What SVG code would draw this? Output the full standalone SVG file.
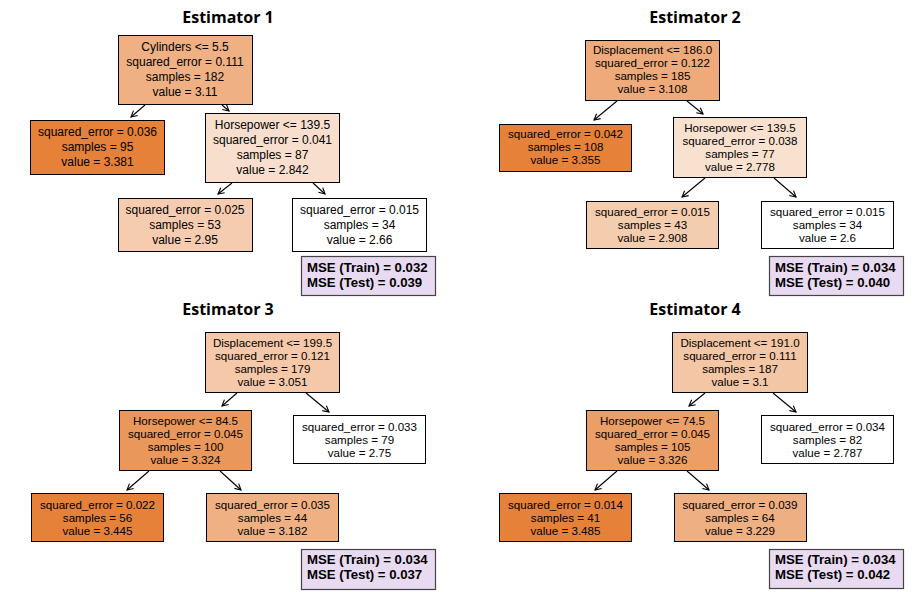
<svg xmlns="http://www.w3.org/2000/svg" width="924" height="592" viewBox="0 0 924 592">
<defs>
<marker id="ah" markerWidth="10" markerHeight="10" refX="0" refY="0" viewBox="-8 -5 10 10" orient="auto" markerUnits="userSpaceOnUse">
<path d="M-6,-3.2 L0,0 L-6,3.2" fill="none" stroke="#000" stroke-width="1.1"/>
</marker>
</defs>
<style>
text{font-family:"Liberation Sans","Arial",sans-serif;fill:#000}
.n text{font-size:11.6px;text-anchor:middle}
#e1 .n text{font-size:12px}
.n rect{stroke:#000;stroke-width:1}
.t{font-family:"Open Sans","Noto Sans",sans-serif;font-size:16px;font-weight:bold;text-anchor:middle}
.m rect{fill:#e8daf0;stroke:#444;stroke-width:1.2}
.m text{font-size:13.2px;font-weight:bold}
.c line{stroke:#000;stroke-width:1.1;marker-end:url(#ah)}
</style>
<rect width="924" height="592" fill="#fff"/>

<text class="t" x="228" y="23">Estimator 1</text>
<text class="t" x="695" y="23">Estimator 2</text>
<text class="t" x="228" y="315">Estimator 3</text>
<text class="t" x="695" y="315">Estimator 4</text>

<g id="connectors" class="c">
<line x1="145" y1="105" x2="131" y2="117"/>
<line x1="222" y1="105" x2="229" y2="111"/>
<line x1="232" y1="183" x2="218" y2="194"/>
<line x1="313" y1="183" x2="325" y2="194"/>

<line x1="617" y1="101" x2="594" y2="120"/>
<line x1="687" y1="101" x2="703" y2="114"/>
<line x1="705" y1="178" x2="682" y2="197"/>
<line x1="774" y1="178" x2="796" y2="197"/>

<line x1="237" y1="393" x2="222" y2="406"/>
<line x1="306" y1="393" x2="329" y2="412"/>
<line x1="149" y1="471" x2="127" y2="490"/>
<line x1="220" y1="471" x2="241" y2="490"/>

<line x1="705" y1="393" x2="689" y2="406"/>
<line x1="773" y1="393" x2="796" y2="412"/>
<line x1="617" y1="471" x2="595" y2="490"/>
<line x1="687" y1="471" x2="709" y2="490"/>
</g>

<g id="e1">
<g id="e1n0" class="n"><rect x="118.5" y="35.5" width="134" height="69" fill="#efb083"/>
<text x="185" y="51">Cylinders &lt;= 5.5</text><text x="185" y="66">squared_error = 0.111</text><text x="185" y="81">samples = 182</text><text x="185" y="96">value = 3.11</text></g>
<g id="e1n1" class="n"><rect x="30.5" y="120.5" width="134" height="54" fill="#e58139"/>
<text x="97.5" y="136">squared_error = 0.036</text><text x="97.5" y="151">samples = 95</text><text x="97.5" y="166">value = 3.381</text></g>
<g id="e1n2" class="n"><rect x="205.5" y="113.5" width="134" height="69" fill="#f8dfcd"/>
<text x="272.5" y="128.5">Horsepower &lt;= 139.5</text><text x="272.5" y="143.5">squared_error = 0.041</text><text x="272.5" y="158.5">samples = 87</text><text x="272.5" y="173.5">value = 2.842</text></g>
<g id="e1n3" class="n"><rect x="118.5" y="198.5" width="134" height="53" fill="#f5ccaf"/>
<text x="185" y="213.5">squared_error = 0.025</text><text x="185" y="228.5">samples = 53</text><text x="185" y="243.5">value = 2.95</text></g>
<g id="e1n4" class="n"><rect x="292.5" y="198.5" width="134" height="53" fill="#fff"/>
<text x="359.5" y="213.5">squared_error = 0.015</text><text x="359.5" y="228.5">samples = 34</text><text x="359.5" y="243.5">value = 2.66</text></g>
<g id="e1mse" class="m"><rect x="301.5" y="256.5" width="134" height="39"/>
<text x="307" y="272">MSE (Train) = 0.032</text><text x="307" y="287">MSE (Test) = 0.039</text></g>
</g>

<g id="e2">
<g id="e2n0" class="n"><rect x="585.5" y="40.5" width="134" height="60" fill="#eeaa7a"/>
<text x="652.5" y="54.2">Displacement &lt;= 186.0</text><text x="652.5" y="67.2">squared_error = 0.122</text><text x="652.5" y="80.2">samples = 185</text><text x="652.5" y="93.2">value = 3.108</text></g>
<g id="e2n1" class="n"><rect x="499.5" y="124.5" width="132" height="47" fill="#e58139"/>
<text x="565.5" y="138.2">squared_error = 0.042</text><text x="565.5" y="151.2">samples = 108</text><text x="565.5" y="164.2">value = 3.355</text></g>
<g id="e2n2" class="n"><rect x="673.5" y="117.5" width="133" height="60" fill="#f9e1d0"/>
<text x="740" y="132">Horsepower &lt;= 139.5</text><text x="740" y="145">squared_error = 0.038</text><text x="740" y="158">samples = 77</text><text x="740" y="171">value = 2.778</text></g>
<g id="e2n3" class="n"><rect x="586.5" y="201.5" width="132" height="47" fill="#f4ccae"/>
<text x="652.5" y="215.5">squared_error = 0.015</text><text x="652.5" y="228.5">samples = 43</text><text x="652.5" y="241.5">value = 2.908</text></g>
<g id="e2n4" class="n"><rect x="761.5" y="201.5" width="132" height="47" fill="#fff"/>
<text x="827.5" y="215.5">squared_error = 0.015</text><text x="827.5" y="228.5">samples = 34</text><text x="827.5" y="241.5">value = 2.6</text></g>
<g id="e2mse" class="m"><rect x="769.5" y="256.5" width="134" height="39"/>
<text x="775" y="272">MSE (Train) = 0.034</text><text x="775" y="287">MSE (Test) = 0.040</text></g>
</g>

<g id="e3">
<g id="e3n0" class="n"><rect x="205.5" y="332.5" width="134" height="60" fill="#f4c8a9"/>
<text x="272.5" y="347.3">Displacement &lt;= 199.5</text><text x="272.5" y="360.3">squared_error = 0.121</text><text x="272.5" y="373.3">samples = 179</text><text x="272.5" y="386.3">value = 3.051</text></g>
<g id="e3n1" class="n"><rect x="119.5" y="410.5" width="132" height="60" fill="#ea975c"/>
<text x="185.5" y="424.5">Horsepower &lt;= 84.5</text><text x="185.5" y="437.5">squared_error = 0.045</text><text x="185.5" y="450.5">samples = 100</text><text x="185.5" y="463.5">value = 3.324</text></g>
<g id="e3n2" class="n"><rect x="293.5" y="415.5" width="132" height="48" fill="#fff"/>
<text x="359.5" y="431.3">squared_error = 0.033</text><text x="359.5" y="444.3">samples = 79</text><text x="359.5" y="457.3">value = 2.75</text></g>
<g id="e3n3" class="n"><rect x="31.5" y="493.5" width="132" height="48" fill="#e58139"/>
<text x="97.5" y="508.5">squared_error = 0.022</text><text x="97.5" y="521.5">samples = 56</text><text x="97.5" y="534.5">value = 3.445</text></g>
<g id="e3n4" class="n"><rect x="206.5" y="493.5" width="132" height="48" fill="#efb184"/>
<text x="272.5" y="508.5">squared_error = 0.035</text><text x="272.5" y="521.5">samples = 44</text><text x="272.5" y="534.5">value = 3.182</text></g>
<g id="e3mse" class="m"><rect x="301.5" y="549.5" width="134" height="40"/>
<text x="307" y="564">MSE (Train) = 0.034</text><text x="307" y="579">MSE (Test) = 0.037</text></g>
</g>

<g id="e4">
<g id="e4n0" class="n"><rect x="672.5" y="332.5" width="135" height="60" fill="#f3c6a6"/>
<text x="740" y="347.3">Displacement &lt;= 191.0</text><text x="740" y="360.3">squared_error = 0.111</text><text x="740" y="373.3">samples = 187</text><text x="740" y="386.3">value = 3.1</text></g>
<g id="e4n1" class="n"><rect x="586.5" y="410.5" width="132" height="60" fill="#eb9e66"/>
<text x="652.5" y="424.5">Horsepower &lt;= 74.5</text><text x="652.5" y="437.5">squared_error = 0.045</text><text x="652.5" y="450.5">samples = 105</text><text x="652.5" y="463.5">value = 3.326</text></g>
<g id="e4n2" class="n"><rect x="761.5" y="415.5" width="132" height="48" fill="#fff"/>
<text x="827.5" y="431.3">squared_error = 0.034</text><text x="827.5" y="444.3">samples = 82</text><text x="827.5" y="457.3">value = 2.787</text></g>
<g id="e4n3" class="n"><rect x="499.5" y="493.5" width="132" height="48" fill="#e58139"/>
<text x="565.5" y="508.5">squared_error = 0.014</text><text x="565.5" y="521.5">samples = 41</text><text x="565.5" y="534.5">value = 3.485</text></g>
<g id="e4n4" class="n"><rect x="674.5" y="493.5" width="132" height="48" fill="#eeaf82"/>
<text x="740" y="508.5">squared_error = 0.039</text><text x="740" y="521.5">samples = 64</text><text x="740" y="534.5">value = 3.229</text></g>
<g id="e4mse" class="m"><rect x="769.5" y="549.5" width="134" height="39"/>
<text x="775" y="564">MSE (Train) = 0.034</text><text x="775" y="579">MSE (Test) = 0.042</text></g>
</g>
</svg>
